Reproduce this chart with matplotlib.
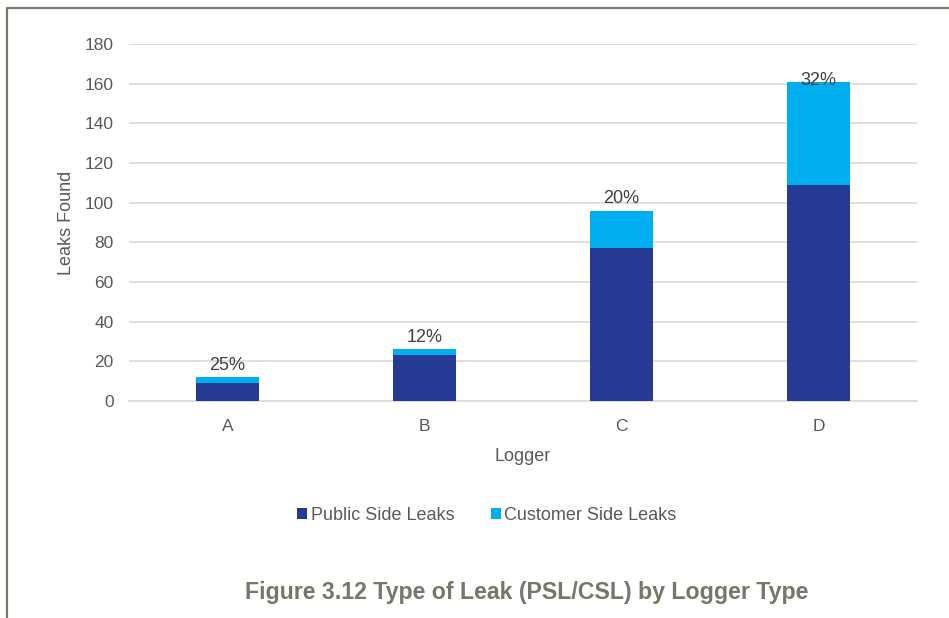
import numpy as np
import matplotlib.pyplot as plt
from matplotlib.lines import Line2D

plt.rcParams['font.family'] = ['Liberation Sans', 'DejaVu Sans']

# Data
loggers = ['A', 'B', 'C', 'D']
public_side = [9, 23, 77, 109]
customer_side = [3, 3, 19, 52]
pct_labels = ['25%', '12%', '20%', '32%']

dark_blue = '#263A94'
light_blue = '#00AEEF'
text_gray = '#595959'
grid_gray = '#D9D9D9'

fig = plt.figure(figsize=(9.49, 6.18), dpi=100)
ax = fig.add_axes([129/949, 1 - 401/618, (917 - 129)/949, (401 - 44)/618])

x = np.arange(len(loggers))
w = 0.315
ax.bar(x, public_side, w, color=dark_blue, label='Public Side Leaks', zorder=3)
ax.bar(x, customer_side, w, bottom=public_side, color=light_blue,
       label='Customer Side Leaks', zorder=3)

# percentage labels above each stack
totals = np.array(public_side) + np.array(customer_side)
for i, (tot, lab) in enumerate(zip(totals, pct_labels)):
    off = 1 if i == len(loggers) - 1 else 8.5
    ax.annotate(lab, (x[i], tot), xytext=(0, off), textcoords='offset points',
                ha='center', va='center', fontsize=13, color='#404040', zorder=4)

ax.set_xlim(-0.5, 3.5)
ax.set_ylim(0, 180)
ax.set_yticks(range(0, 181, 20))
ax.set_xticks(x)
ax.set_xticklabels(loggers)
ax.yaxis.grid(True, color=grid_gray, linewidth=1.2, zorder=0)
for s in ['top', 'right', 'left']:
    ax.spines[s].set_visible(False)
ax.spines['bottom'].set_color(grid_gray)
ax.spines['bottom'].set_linewidth(1.2)
ax.tick_params(axis='both', length=0, labelsize=12.5, labelcolor=text_gray)
ax.tick_params(axis='y', pad=11)
ax.tick_params(axis='x', pad=13)
ax.set_xlabel('Logger', fontsize=13, color=text_gray, labelpad=10)
ax.set_ylabel('Leaks Found', fontsize=13, color=text_gray, labelpad=7)

fig.legend(loc='center', bbox_to_anchor=(487/949, 1 - 515/618), ncol=2,
           frameon=False, fontsize=13, handlelength=0.55, handleheight=0.55,
           handletextpad=0.2, columnspacing=2.0, labelcolor=text_gray)

fig.text(527/949, 1 - 593/618, 'Figure 3.12 Type of Leak (PSL/CSL) by Logger Type',
         ha='center', va='center', fontsize=16.7, fontweight='bold', color='#76766B')

# frame around the figure (left and top edges)
fig.add_artist(Line2D([7/949, 7/949, 1.0], [0.0, 1 - 8/618, 1 - 8/618],
                      transform=fig.transFigure, color='#7A7A6F', linewidth=1.6))

fig.savefig('out.png', dpi=100)
